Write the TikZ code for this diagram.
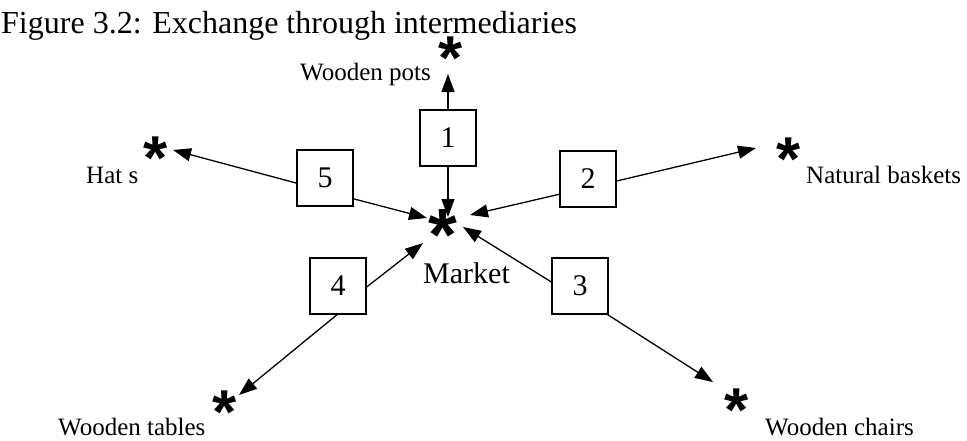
\documentclass[tikz,border=0pt]{standalone}
\usepackage{fontspec}
\setmainfont{Liberation Serif}
\newfontfamily\starfont{Liberation Sans}
\usetikzlibrary{arrows.meta}
\begin{document}
\begin{tikzpicture}[x=1pt,y=-1pt,
  numbox/.style={draw,line width=1.4pt,minimum width=56pt,minimum height=56pt,inner sep=0pt,font=\fontsize{30}{30}\selectfont},
  place/.style={inner sep=0pt,anchor=center,yshift=-30pt,font=\starfont\bfseries\fontsize{62}{62}\selectfont},
  bigplace/.style={inner sep=0pt,anchor=center,yshift=-36pt,font=\starfont\bfseries\fontsize{74}{74}\selectfont},
  lbl/.style={inner sep=0pt,anchor=base west,font=\fontsize{25}{25}\selectfont},
  link/.style={line width=1.3pt,-{Triangle[length=18pt,width=13pt]}}]
\useasboundingbox (0,0) rectangle (967,440);
\node[anchor=base west,inner sep=0pt,font=\fontsize{32}{32}\selectfont] (title) at (1,33) {Figure 3.2: Exchange through intermediaries};

% places (glyph centred on the given point)
\node[place] (sPots) at (451,49) {\smash{*}};
\node[place] (sHat) at (156,149) {\smash{*}};
\node[place] (sBask) at (789,150) {\smash{*}};
\node[place] (sTab) at (225,403) {\smash{*}};
\node[place] (sChair) at (737,401) {\smash{*}};
\node[bigplace] (sMkt) at (443,224) {\smash{*}};

% labels
\node[lbl] (lPots) at (300,80) {Wooden pots};
\node[lbl] (lHat) at (86,183) {Hat s};
\node[lbl] (lBask) at (806,183) {Natural baskets};
\node[lbl] (lTab) at (58,435) {Wooden tables};
\node[lbl] (lChair) at (765,435) {Wooden chairs};
\node[lbl,font=\fontsize{30}{30}\selectfont] (lMkt) at (423,283) {Market};

% intermediaries
\node[numbox] (b1) at (448,138) {1};
\node[numbox] (b2) at (588,179) {2};
\node[numbox] (b3) at (580,286) {3};
\node[numbox] (b4) at (338,286) {4};
\node[numbox] (b5) at (325,178) {5};

% arrow tips
\coordinate (tPots) at (448,74);
\coordinate (tM1) at (448,217);
\coordinate (tHat) at (173,150);
\coordinate (tM5) at (427,218);
\coordinate (tM2) at (470,215);
\coordinate (tBask) at (756,148);
\coordinate (tM4) at (423,243);
\coordinate (tTab) at (239,395);
\coordinate (tM3) at (463,227);
\coordinate (tChair) at (713,382);

\draw[link] (b1.north) -- (tPots);
\draw[link] (b1.south) -- (tM1);
\draw[link] (b5.190) -- (tHat);
\draw[link] (b5.324) -- (tM5);
\draw[link] (b2.208) -- (tM2);
\draw[link] (b2.356) -- (tBask);
\draw[link] (b4.358) -- (tM4);
\draw[link] (b4.268) -- (tTab);
\draw[link] (b3.172) -- (tM3);
\draw[link] (b3.314) -- (tChair);
\end{tikzpicture}
\end{document}
